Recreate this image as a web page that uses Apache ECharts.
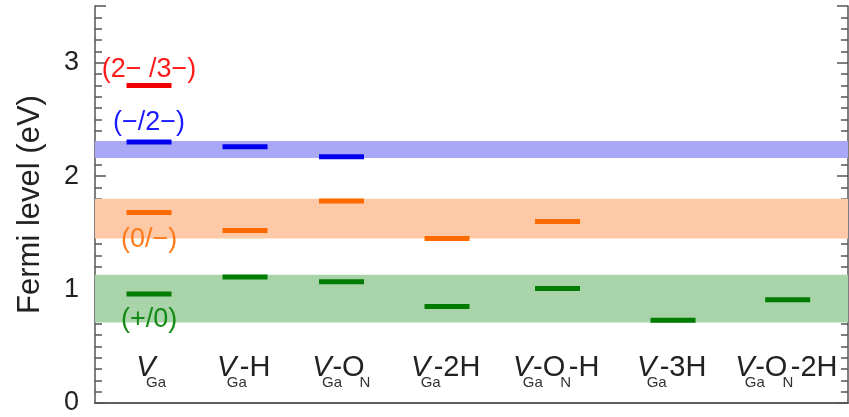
<!DOCTYPE html>
<html><head><meta charset="utf-8">
<script src="https://cdn.jsdelivr.net/npm/echarts@6/dist/echarts.min.js"></script>
<style>html,body{margin:0;padding:0;background:#fff}#c{width:849px;height:417px}</style>
</head><body><div id="c"></div>
<script>
// ---- data ----
const categories = ['V_{Ga}', 'V_{Ga}-H', 'V_{Ga}-O_{N}', 'V_{Ga}-2H', 'V_{Ga}-O_{N}-H', 'V_{Ga}-3H', 'V_{Ga}-O_{N}-2H'];
const xPositions = [0.574, 1.594, 2.619, 3.740, 4.914, 6.141, 7.359];
const level2m3m = [2.80, null, null, null, null, null, null];   // (2−/3−)
const levelm2m  = [2.30, 2.26, 2.17, null, null, null, null];   // (−/2−)
const level0m   = [1.68, 1.52, 1.78, 1.45, 1.60, null, null];   // (0/−)
const levelp0   = [0.96, 1.11, 1.07, 0.85, 1.01, 0.73, 0.91];   // (+/0)
const bandBlue   = [2.16, 2.31];
const bandOrange = [1.45, 1.80];
const bandGreen  = [0.71, 1.13];
const transitionLabels = ['(2\u2212 /3\u2212)', '(\u2212/2\u2212)', '(0/\u2212)', '(+/0)'];
const transitionLabelY = [2.94, 2.47, 1.44, 0.74];
const yTickLabels = [0, 1, 2, 3];

// ---- styles ----
const FONT = 'Liberation Sans, Arial, Helvetica, sans-serif';
const levelColors = ['#f00000', '#0000ee', '#ff6a00', '#007d00'];
const labelColors = ['#ff1a1a', '#1a1aff', '#ff7a1a', '#138a13'];
const bandColors = ['#a8a8f7', '#fdc9a6', '#a9d4a9'];
const LEVEL_W = 0.478, LEVEL_H = 5;
const AX = '#555';
const MAIN_SIZE = 29, SUB_SIZE = 15, SUB_KERN = 5, SUB_ADV = 6;

// rich-text labels with subscripts tucked under the preceding glyph
const measureCtx = document.createElement('canvas').getContext('2d');
function textW(t, italic) {
  measureCtx.font = (italic ? 'italic ' : '') + MAIN_SIZE + 'px ' + FONT;
  return measureCtx.measureText(t).width;
}
const rich = {
  s: { fontFamily: FONT, fontSize: SUB_SIZE, color: '#333', lineHeight: SUB_SIZE, width: SUB_ADV, padding: [22, 0, 0, 0], verticalAlign: 'top' }
};
let styleId = 0;
function mainToken(t, beforeSub) {
  const pieces = [];
  if (t[0] === 'V') { pieces.push([t[0], true]); if (t.length > 1) pieces.push([t.slice(1), false]); }
  else pieces.push([t, false]);
  return pieces.map((p, k) => {
    const key = 't' + (styleId++);
    const st = { fontFamily: FONT, fontSize: MAIN_SIZE, color: '#222', lineHeight: MAIN_SIZE, verticalAlign: 'top' };
    if (p[1]) st.fontStyle = 'italic';
    if (beforeSub && k === pieces.length - 1) st.width = Math.round(textW(p[0], p[1]) - SUB_KERN);
    rich[key] = st;
    return '{' + key + '|' + p[0] + '}';
  }).join('');
}
function toRich(s) {
  let out = '', last = 0, m;
  const re = /_\{([^}]*)\}/g;
  while ((m = re.exec(s))) {
    const pre = s.slice(last, m.index);
    if (pre) out += mainToken(pre, true);
    out += '{s|' + m[1] + '}';
    last = re.lastIndex;
  }
  const rest = s.slice(last);
  if (rest) out += mainToken(rest, false);
  return out;
}
const richLabels = categories.map(toRich);

function levelSeries(arr, idx) {
  return {
    type: 'custom', z: 5,
    data: xPositions.map((x, i) => [x, arr[i]]).filter(d => d[1] != null),
    renderItem: function (params, api) {
      const c = api.coord([api.value(0), api.value(1)]);
      const w = api.size([LEVEL_W, 0])[0];
      return { type: 'rect', shape: { x: c[0] - w / 2, y: c[1] - LEVEL_H / 2, width: w, height: LEVEL_H },
               style: { fill: levelColors[idx] } };
    }
  };
}

const chart = echarts.init(document.getElementById('c'));
const yBase = { type: 'value', min: 0, max: 3.5, splitLine: { show: false } };
chart.setOption({
  animation: false,
  backgroundColor: '#fff',
  grid: { left: 95, right: 1, top: 6, bottom: 14, containLabel: false },
  xAxis: [
    { type: 'value', min: 0, max: 8, position: 'bottom',
      axisLine: { show: true, lineStyle: { color: AX, width: 1.5 } },
      axisTick: { show: false }, splitLine: { show: false },
      axisLabel: { inside: true, margin: 21, customValues: xPositions,
        formatter: v => richLabels[xPositions.indexOf(v)],
        rich: rich } },
    { type: 'value', min: 0, max: 8, position: 'top',
      axisLine: { show: true, lineStyle: { color: AX, width: 1.5 } },
      axisTick: { show: false }, axisLabel: { show: false }, splitLine: { show: false } }
  ],
  yAxis: [
    Object.assign({}, yBase, { position: 'left', interval: 0.1,
      name: 'Fermi level (eV)', nameLocation: 'middle', nameGap: 49,
      nameTextStyle: { fontFamily: FONT, fontSize: 31, color: '#222' },
      axisLine: { show: true, lineStyle: { color: AX, width: 1.5 } },
      axisTick: { show: true, inside: true, length: 7, lineStyle: { color: AX, width: 1.5 } },
      axisLabel: { show: true, customValues: yTickLabels, margin: 16, fontFamily: FONT, fontSize: 27, color: '#222' } }),
    Object.assign({}, yBase, { position: 'left', interval: 1,
      axisLine: { show: false },
      axisTick: { show: true, inside: true, length: 11, lineStyle: { color: AX, width: 1.5 } },
      axisLabel: { show: false } }),
    Object.assign({}, yBase, { position: 'right', interval: 0.1,
      axisLine: { show: true, lineStyle: { color: AX, width: 1.5 } },
      axisTick: { show: true, inside: true, length: 7, lineStyle: { color: AX, width: 1.5 } },
      axisLabel: { show: false } }),
    Object.assign({}, yBase, { position: 'right', interval: 1,
      axisLine: { show: false },
      axisTick: { show: true, inside: true, length: 11, lineStyle: { color: AX, width: 1.5 } },
      axisLabel: { show: false } })
  ],
  series: [
    { type: 'line', data: [], z: 1, silent: true,
      markArea: { silent: true, data: [
        [{ yAxis: bandBlue[0], itemStyle: { color: bandColors[0] } }, { yAxis: bandBlue[1] }],
        [{ yAxis: bandOrange[0], itemStyle: { color: bandColors[1] } }, { yAxis: bandOrange[1] }],
        [{ yAxis: bandGreen[0], itemStyle: { color: bandColors[2] } }, { yAxis: bandGreen[1] }]
      ] } },
    levelSeries(level2m3m, 0),
    levelSeries(levelm2m, 1),
    levelSeries(level0m, 2),
    levelSeries(levelp0, 3),
    { type: 'custom', z: 6,
      data: transitionLabels.map((t, i) => [xPositions[0], transitionLabelY[i], i]),
      renderItem: function (params, api) {
        const i = api.value(2);
        const c = api.coord([api.value(0), api.value(1)]);
        return { type: 'text', style: { text: transitionLabels[i], x: c[0], y: c[1],
          align: 'center', verticalAlign: 'middle', fill: labelColors[i],
          font: '27px ' + FONT } };
      } }
  ]
});
</script></body></html>
